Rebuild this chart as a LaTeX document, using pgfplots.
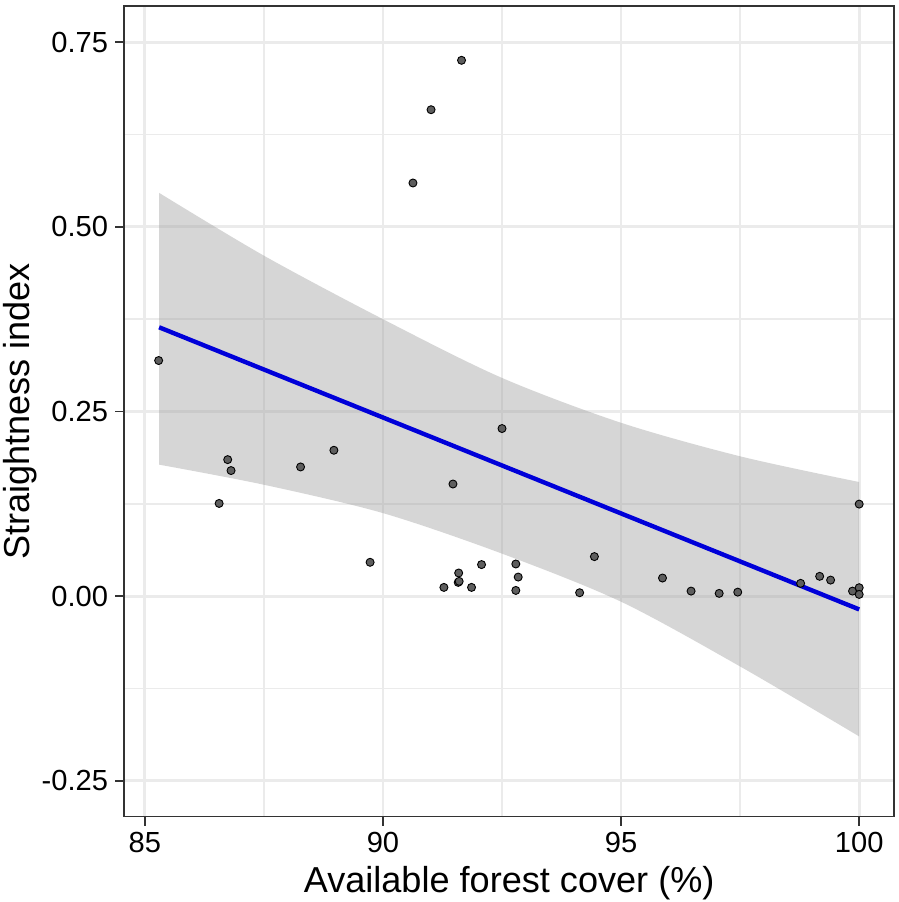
\documentclass[border=0pt]{standalone}
\usepackage{pgfplots}
\pgfplotsset{compat=1.18}
\usepgfplotslibrary{fillbetween}
\usepackage{fontspec}
\setmainfont{Liberation Sans}
\definecolor{gridc}{HTML}{EBEBEB}
\definecolor{ribc}{HTML}{999999}
\definecolor{ptc}{HTML}{5E5E5E}
\definecolor{axc}{HTML}{333333}
\begin{document}
\begin{tikzpicture}
\begin{axis}[
  scale only axis, width=384pt, height=404pt,
  xmin=84.565, xmax=100.735, ymin=-0.2985, ymax=0.7985,
  xtick={85,90,95,100}, xticklabels={85,90,95,100},
  ytick={-0.25,0,0.25,0.5,0.75}, yticklabels={-0.25,0.00,0.25,0.50,0.75},
  minor xtick={87.5,92.5,97.5}, minor ytick={-0.125,0.125,0.375,0.625},
  grid=both,
  major grid style={gridc, line width=1.4pt},
  minor grid style={gridc, line width=0.7pt},
  tick align=outside, major tick length=4.5pt, minor tick length=0pt,
  xtick pos=lower, ytick pos=left,
  tick style={color=axc, line width=0.8pt},
  axis line style={axc, line width=0.9pt},
  tick label style={font=\fontsize{14.5}{16}\selectfont, text=black},
  label style={font=\fontsize{18}{21}\selectfont, text=black},
  xlabel={Available forest cover (\%)},
  ylabel={Straightness index},
  xlabel style={inner sep=0pt, yshift=-3pt},
  ylabel style={inner sep=0pt, yshift=-1pt},
  /pgf/number format/assume math mode=true,
  clip=true,
]
\addplot[name path=U, draw=none, smooth] coordinates {
  (85.3,0.546) (87.5,0.461) (90,0.375) (92.48,0.296) (95,0.2347) (97.52,0.189) (100,0.1545)};
\addplot[name path=L, draw=none, smooth] coordinates {
  (85.3,0.178) (87.5,0.1508) (90,0.1124) (92.48,0.058) (95,-0.0076) (97.52,-0.096) (100,-0.190)};
\addplot[ribc, fill opacity=0.4, draw=none] fill between[of=U and L];
\addplot[color=blue!85!black, line width=2.2pt] coordinates {(85.3,0.364) (100,-0.018)};
\addplot[only marks, mark=*, mark size=2pt, mark options={fill=ptc, draw=black, line width=0.45pt}] coordinates {
  (85.29,0.319)
  (86.56,0.1255) (86.74,0.1848) (86.81,0.170)
  (88.27,0.1749) (88.97,0.1975) (89.73,0.0458)
  (90.63,0.5594) (91.01,0.6586) (91.65,0.7255)
  (91.28,0.0118) (91.47,0.1518)
  (91.58,0.0186) (91.60,0.0200) (91.59,0.0313) (91.86,0.0118)
  (92.07,0.0427) (92.50,0.2269)
  (92.79,0.0435) (92.84,0.0258) (92.79,0.0077)
  (94.13,0.0046) (94.44,0.0535)
  (95.87,0.0245) (96.47,0.0068) (97.06,0.0037) (97.45,0.0054)
  (98.77,0.0173) (99.17,0.0268) (99.40,0.0217) (99.86,0.0068)
  (100,0.0114) (100,0.0023) (100,0.1246)
};
\end{axis}
\path ([shift={(-1.5pt,-1pt)}]current axis.outer south west) ([shift={(1.5pt,2.5pt)}]current axis.outer north east);
\end{tikzpicture}
\end{document}
